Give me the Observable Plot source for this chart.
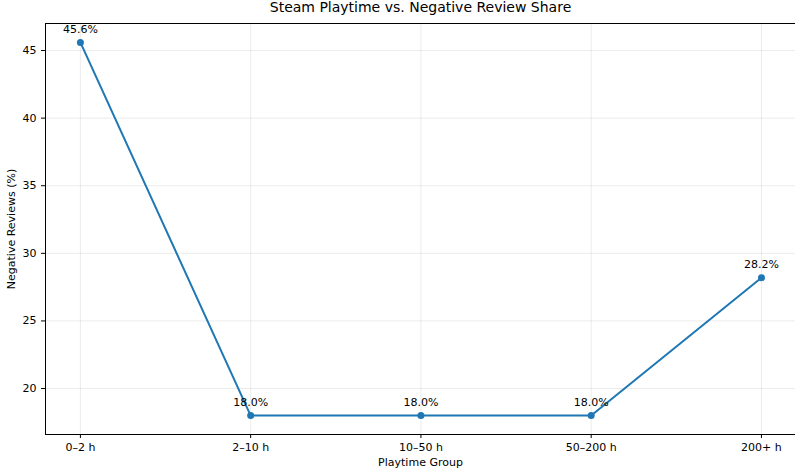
<!DOCTYPE html>
<html><head><meta charset="utf-8">
<script src="https://cdn.jsdelivr.net/npm/d3@7"></script>
<script src="https://cdn.jsdelivr.net/npm/@observablehq/plot@0.6"></script>
<style>body{margin:0;background:#fff;font-family:"DejaVu Sans",sans-serif}</style>
</head><body><div id="c"></div>
<script>
const groups = ["0–2 h","2–10 h","10–50 h","50–200 h","200+ h"];
const negShare = [45.6,18.0,18.0,18.0,28.2];
const yTicks = [20,25,30,35,40,45];
const data = groups.map((g,i)=>({i, g, v:negShare[i]}));
const color = "#1f77b4";
const chart = Plot.plot({
  width:795, height:476, marginTop:23, marginLeft:45, marginRight:0, marginBottom:42,
  style:{fontFamily:"DejaVu Sans, sans-serif", fontSize:"11px", color:"#000"},
  x:{domain:[-0.205,4.2], ticks:d3.range(groups.length), tickFormat:i=>groups[i], label:"Playtime Group", labelAnchor:"center", labelArrow:"none", labelOffset:31, tickSize:4},
  y:{domain:[16.6,47.0], ticks:yTicks, label:"Negative Reviews (%)", labelAnchor:"center", labelArrow:"none", labelOffset:38, tickSize:4},
  marks:[
    Plot.gridX(d3.range(groups.length), {stroke:"#000", strokeOpacity:0.08}),
    Plot.gridY(yTicks, {stroke:"#000", strokeOpacity:0.08}),
    Plot.frame({stroke:"#000"}),
    Plot.line(data,{x:"i",y:"v",stroke:color,strokeWidth:2}),
    Plot.dot(data,{x:"i",y:"v",fill:color,r:3.5}),
    Plot.text(data,{x:"i",y:"v",text:d=>d.v.toFixed(1)+"%",dy:-13,fontSize:11,fill:"#000"}),
    Plot.text(["Steam Playtime vs. Negative Review Share"],{frameAnchor:"top",dy:-12,lineAnchor:"bottom",fontSize:14,fill:"#000"})
  ]
});
document.getElementById("c").appendChild(chart);
</script></body></html>
